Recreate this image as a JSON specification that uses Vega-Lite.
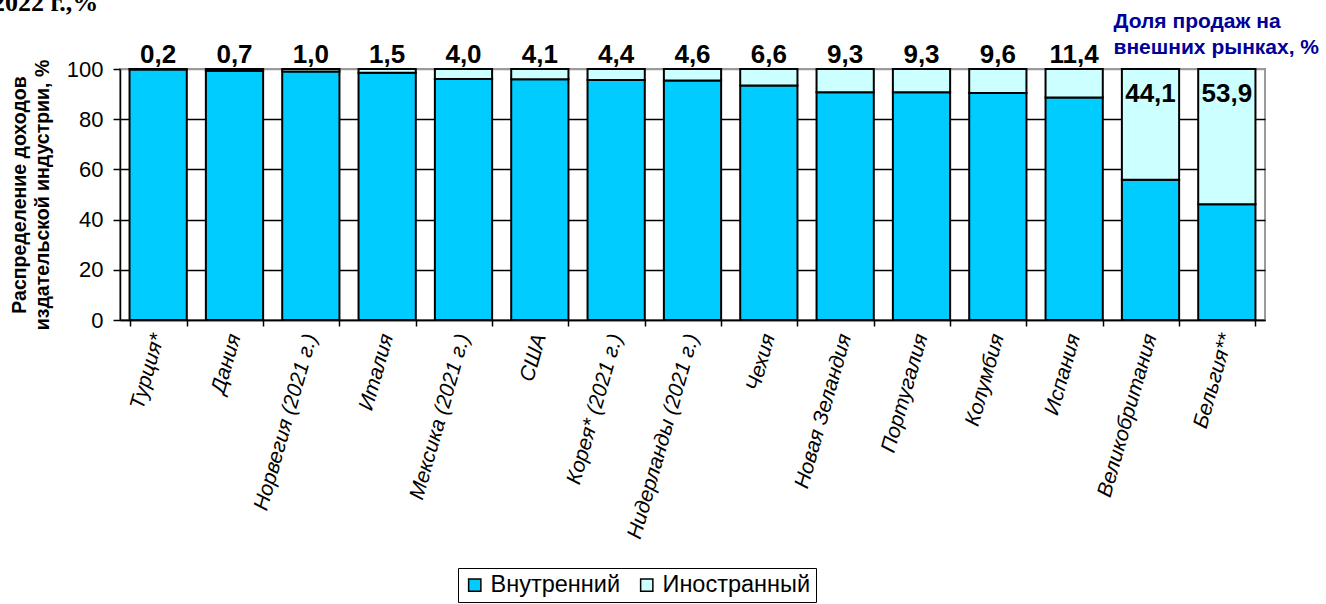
{
  "$schema": "https://vega.github.io/schema/vega-lite/v6.json",
  "width": 1145,
  "height": 251,
  "autosize": {"type": "none"},
  "padding": {"left": 120, "top": 69, "right": 61, "bottom": 284},
  "background": "white",
  "title": {
    "text": "2022 г.,%",
    "anchor": "start",
    "frame": "group",
    "font": "Liberation Serif",
    "fontSize": 26,
    "fontWeight": "bold",
    "color": "black",
    "baseline": "alphabetic",
    "dx": -128,
    "dy": 27,
    "offset": 0
  },
  "config": {
    "locale": {"number": {"decimal": ",", "thousands": " ", "grouping": [3], "currency": ["", ""]}},
    "font": "Liberation Sans",
    "view": {"stroke": "#9a9a9a", "strokeWidth": 2}
  },
  "data": {
    "values": [
      {"country": "Турция*", "type": "Внутренний", "value": 99.8},
      {"country": "Турция*", "type": "Иностранный", "value": 0.2},
      {"country": "Дания", "type": "Внутренний", "value": 99.3},
      {"country": "Дания", "type": "Иностранный", "value": 0.7},
      {"country": "Норвегия (2021 г.)", "type": "Внутренний", "value": 99.0},
      {"country": "Норвегия (2021 г.)", "type": "Иностранный", "value": 1.0},
      {"country": "Италия", "type": "Внутренний", "value": 98.5},
      {"country": "Италия", "type": "Иностранный", "value": 1.5},
      {"country": "Мексика (2021 г.)", "type": "Внутренний", "value": 96.0},
      {"country": "Мексика (2021 г.)", "type": "Иностранный", "value": 4.0},
      {"country": "США", "type": "Внутренний", "value": 95.9},
      {"country": "США", "type": "Иностранный", "value": 4.1},
      {"country": "Корея* (2021 г.)", "type": "Внутренний", "value": 95.6},
      {"country": "Корея* (2021 г.)", "type": "Иностранный", "value": 4.4},
      {"country": "Нидерланды (2021 г.)", "type": "Внутренний", "value": 95.4},
      {"country": "Нидерланды (2021 г.)", "type": "Иностранный", "value": 4.6},
      {"country": "Чехия", "type": "Внутренний", "value": 93.4},
      {"country": "Чехия", "type": "Иностранный", "value": 6.6},
      {"country": "Новая Зеландия", "type": "Внутренний", "value": 90.7},
      {"country": "Новая Зеландия", "type": "Иностранный", "value": 9.3},
      {"country": "Португалия", "type": "Внутренний", "value": 90.7},
      {"country": "Португалия", "type": "Иностранный", "value": 9.3},
      {"country": "Колумбия", "type": "Внутренний", "value": 90.4},
      {"country": "Колумбия", "type": "Иностранный", "value": 9.6},
      {"country": "Испания", "type": "Внутренний", "value": 88.6},
      {"country": "Испания", "type": "Иностранный", "value": 11.4},
      {"country": "Великобритания", "type": "Внутренний", "value": 55.9},
      {"country": "Великобритания", "type": "Иностранный", "value": 44.1},
      {"country": "Бельгия**", "type": "Внутренний", "value": 46.1},
      {"country": "Бельгия**", "type": "Иностранный", "value": 53.9}
    ]
  },
  "layer": [
    {
      "mark": {"type": "bar", "stroke": "black", "strokeWidth": 2},
      "encoding": {
        "x": {
          "field": "country",
          "type": "nominal",
          "sort": null,
          "scale": {"paddingInner": 0.25, "paddingOuter": 0.125},
          "axis": {
            "title": null,
            "labelAngle": -74,
            "labelFontSize": 21,
            "labelFontStyle": "italic",
            "labelColor": "black",
            "labelPadding": 8,
            "labelLimit": 400,
            "tickBand": "extent",
            "tickColor": "black",
            "tickSize": 6,
            "tickWidth": 1.5,
            "domainColor": "black",
            "domainWidth": 1.5
          }
        },
        "y": {
          "field": "value",
          "type": "quantitative",
          "stack": "zero",
          "scale": {"domain": [0, 100], "nice": false},
          "axis": {
            "title": ["Распределение доходов", "издательской индустрии, %"],
            "titleFontSize": 19.5,
            "titleFontWeight": "bold",
            "titleColor": "black",
            "titleLineHeight": 23,
            "titlePadding": 14,
            "values": [0, 20, 40, 60, 80, 100],
            "labelFontSize": 22,
            "labelColor": "black",
            "labelPadding": 10,
            "tickColor": "black",
            "tickSize": 7,
            "tickWidth": 1.5,
            "domainColor": "black",
            "domainWidth": 1.5,
            "gridColor": {"condition": {"test": "datum.value === 100", "value": "#9a9a9a"}, "value": "black"},
            "gridWidth": 1.5
          }
        },
        "order": {"field": "type", "sort": "ascending"},
        "color": {
          "field": "type",
          "type": "nominal",
          "scale": {"domain": ["Внутренний", "Иностранный"], "range": ["#00CCFF", "#CCFFFF"]},
          "legend": {
            "orient": "none",
            "legendX": 338,
            "legendY": 499,
            "direction": "horizontal",
            "title": null,
            "labelFontSize": 23.5,
            "labelColor": "black",
            "symbolType": "square",
            "symbolSize": 150,
            "symbolStrokeColor": "black",
            "symbolStrokeWidth": 1.5,
            "symbolOpacity": 1,
            "strokeColor": "black",
            "padding": 5,
            "columnPadding": 14
          }
        }
      }
    },
    {
      "transform": [{"filter": "datum.type === 'Иностранный' && datum.value < 20"}],
      "mark": {"type": "text", "fontSize": 26, "fontWeight": "bold", "color": "black", "baseline": "alphabetic", "dy": -6},
      "encoding": {
        "x": {
          "field": "country",
          "type": "nominal",
          "sort": null,
          "axis": {
            "orient": "top",
            "labels": false,
            "ticks": false,
            "domain": false,
            "grid": false,
            "title": ["Доля продаж на", "внешних рынках, %"],
            "titleX": 993,
            "titleY": -59,
            "titleAlign": "left",
            "titleBaseline": "top",
            "titleAngle": 0,
            "titleFontSize": 21,
            "titleFontWeight": "bold",
            "titleColor": "#000099",
            "titleLineHeight": 26
          }
        },
        "y": {"datum": 100, "type": "quantitative"},
        "text": {"field": "value", "type": "quantitative", "format": ".1f"}
      }
    },
    {
      "transform": [{"filter": "datum.type === 'Иностранный' && datum.value >= 20"}],
      "mark": {"type": "text", "fontSize": 26, "fontWeight": "bold", "color": "black", "baseline": "alphabetic", "dy": 33},
      "encoding": {
        "x": {"field": "country", "type": "nominal", "sort": null, "axis": null},
        "y": {"datum": 100, "type": "quantitative"},
        "text": {"field": "value", "type": "quantitative", "format": ".1f"}
      }
    }
  ],
  "resolve": {"axis": {"x": "independent"}}
}
